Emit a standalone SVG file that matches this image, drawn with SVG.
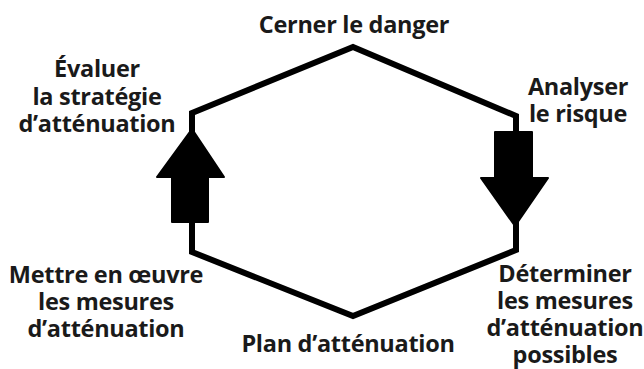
<svg xmlns="http://www.w3.org/2000/svg" width="644" height="369" viewBox="0 0 644 369">
<style>
.t{font-family:"Open Sans","Noto Sans",sans-serif;font-weight:700;font-size:23.5px;letter-spacing:-0.3px;fill:#1a1a1a;text-anchor:middle}
.ln{fill:none;stroke:#000;stroke-width:6;stroke-linejoin:miter}
.ar{fill:#000;stroke:#000;stroke-width:2;stroke-linejoin:round}
</style>
<rect width="644" height="369" fill="#fff"/>
<g id="connectors">
<path class="ln" d="M192,132 L192,113 L353,47 L516,116 L516,134"/>
<path class="ln" d="M192,220 L192,252 L353,316 L516,250 L516,222"/>
<path class="ar" d="M192,129 L224,177 L208,177 L208,222 L172,222 L172,177 L157,177 Z"/>
<path class="ar" d="M515,226 L548,178 L532,178 L532,132 L495,132 L495,178 L481,178 Z"/>
</g>
<g id="n1"><text class="t" x="354" y="33">Cerner le danger</text></g>
<g id="n2"><text class="t" x="578" y="95">Analyser</text><text class="t" x="578" y="122">le risque</text></g>
<g id="n3"><text class="t" x="565" y="282">Déterminer</text><text class="t" x="565" y="309">les mesures</text><text class="t" x="565" y="336">d’atténuation</text><text class="t" x="565" y="363">possibles</text></g>
<g id="n4"><text class="t" x="348" y="352">Plan d’atténuation</text></g>
<g id="n5"><text class="t" x="106" y="283">Mettre en œuvre</text><text class="t" x="106" y="310">les mesures</text><text class="t" x="106" y="337">d’atténuation</text></g>
<g id="n6"><text class="t" x="97" y="77">Évaluer</text><text class="t" x="97" y="105">la stratégie</text><text class="t" x="97" y="132">d’atténuation</text></g>
</svg>
